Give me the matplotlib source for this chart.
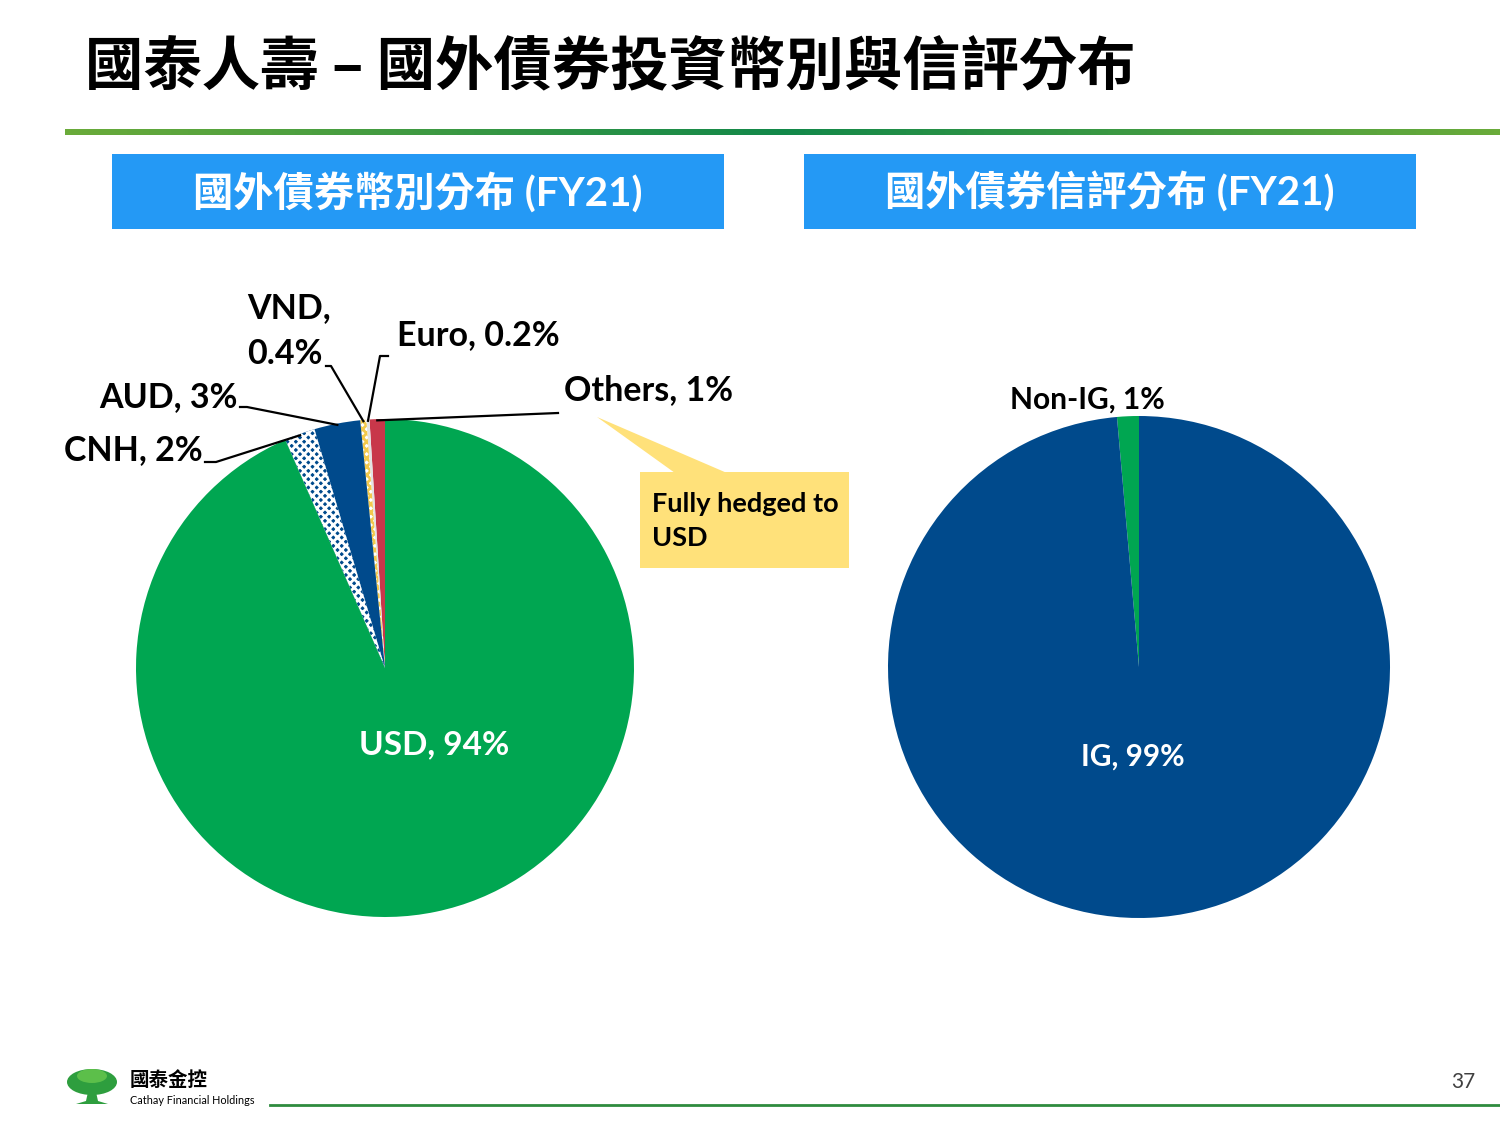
import numpy as np
import matplotlib
matplotlib.use('Agg')
import matplotlib.pyplot as plt
from matplotlib.patches import Rectangle, Polygon, Ellipse
from matplotlib.colors import LinearSegmentedColormap

plt.rcParams['font.family'] = ['Lato', 'Noto Sans CJK TC', 'DejaVu Sans']
plt.rcParams['hatch.linewidth'] = 2.0

# currency split (FY21), counter-clockwise from the top
cur_labels = ['Others', 'Euro', 'VND', 'AUD', 'CNH', 'USD']
cur_values = [1, 0.2, 0.4, 3, 2, 94]
cur_text = ['Others, 1%', 'Euro, 0.2%', 'VND,\n0.4%', 'AUD, 3%', 'CNH, 2%', 'USD, 94%']

# rating split (FY21)
rat_labels = ['Non-IG', 'IG']
rat_values = [1.4, 98.6]
rat_text = ['Non-IG, 1%', 'IG, 99%']

title = '國泰人壽 – 國外債券投資幣別與信評分布'
head_left = '國外債券幣別分布 (FY21)'
head_right = '國外債券信評分布 (FY21)'

GREEN = '#00A651'
BLUE = '#004A8C'
RED = '#C8374A'
YELLOW = '#F2C94C'
HEAD = '#2499F5'

W, H = 1500, 1125
fig = plt.figure(figsize=(15, 11.25), dpi=100)


def pie_axes(cx, cy, r):
    return fig.add_axes([(cx - r) / W, (H - cy - r) / H, 2 * r / W, 2 * r / H])


def fix_limits(ax):
    ax.set_xlim(-1, 1)
    ax.set_ylim(-1, 1)
    ax.axis('off')


# left pie
lcx, lcy, lr = 385, 668, 249
axl = pie_axes(lcx, lcy, lr)
wl, _ = axl.pie(cur_values, startangle=90, counterclock=True, radius=1,
                colors=[RED, '#E3E3E3', 'white', BLUE, BLUE, GREEN],
                wedgeprops=dict(linewidth=0))
fix_limits(axl)
wl[2].set_hatch('xxxx')
wl[2].set_edgecolor(YELLOW)
wl[2].set_linewidth(0)
wl[4].set_hatch('xxxx')
wl[4].set_edgecolor('white')
wl[4].set_linewidth(0)

# right pie
rcx, rcy, rr = 1139, 667, 251
axr = pie_axes(rcx, rcy, rr)
wr, _ = axr.pie(rat_values, startangle=90, counterclock=True, radius=1,
                colors=[GREEN, BLUE], wedgeprops=dict(linewidth=0))
fix_limits(axr)

# overlay in pixel coordinates
ov = fig.add_axes([0, 0, 1, 1], facecolor='none')

ov.text(85, 68, title, fontsize=42, fontweight='bold', va='center', ha='left',
        family=['Noto Sans CJK TC'])

# gradient rule under title
grad = LinearSegmentedColormap.from_list('g', ['#6AAB3A', '#12884A', '#6AAB3A'])
ov.imshow(np.linspace(0, 1, 256).reshape(1, -1), cmap=grad, aspect='auto',
          extent=[65, 1500, 135, 129], zorder=1)
ov.set_xlim(0, W)
ov.set_ylim(H, 0)
ov.axis('off')

# header boxes
for x0, txt in [(112, head_left), (804, head_right)]:
    ov.add_patch(Rectangle((x0, 154), 612, 75, facecolor=HEAD, edgecolor='none'))
    ov.text(x0 + 306, 192, txt, color='white', fontsize=29, fontweight='bold',
            ha='center', va='center')


def edge_point(cx, cy, r, wedge, frac=1.0):
    th = np.deg2rad((wedge.theta1 + wedge.theta2) / 2)
    return cx + frac * r * np.cos(th), cy - frac * r * np.sin(th)


lab = dict(fontsize=24.5, fontweight='bold', color='black')
# leader lines: text anchor, elbow, wedge
leaders = {
    0: [(558, 413)],
    1: [(388, 356), (380, 356)],
    2: [(326, 366), (331, 366)],
    3: [(240, 407), (247, 407)],
    4: [(205, 462), (216, 462)],
}
for i, pts in leaders.items():
    ex, ey = edge_point(lcx, lcy, lr, wl[i], 0.995)
    xs = [p[0] for p in pts] + [ex]
    ys = [p[1] for p in pts] + [ey]
    ov.plot(xs, ys, color='black', lw=1.6, zorder=3)

ov.text(564, 390, cur_text[0], ha='left', va='center', **lab)
ov.text(397, 335, cur_text[1], ha='left', va='center', **lab)
ov.text(247, 331, cur_text[2], ha='left', va='center', linespacing=1.5, **lab)
ov.text(238, 397, cur_text[3], ha='right', va='center', **lab)
ov.text(203, 450, cur_text[4], ha='right', va='center', **lab)
ov.text(434, 745, cur_text[5], ha='center', va='center', fontsize=24,
        fontweight='bold', color='white')

# hedge callout
ov.add_patch(Polygon([(597, 417), (727, 473), (675, 473)], closed=True,
                     facecolor='#FFE17A', edgecolor='none'))
ov.add_patch(Rectangle((640, 472), 209, 96, facecolor='#FFE17A', edgecolor='none'))
ov.text(652, 521, 'Fully hedged to\nUSD', ha='left', va='center', fontsize=19.5,
        fontweight='bold', linespacing=1.45)

ov.text(1087, 400, rat_text[0], ha='center', va='center', fontsize=21.5,
        fontweight='bold', color='black')
ov.text(1133, 757, rat_text[1], ha='center', va='center', fontsize=21.5,
        fontweight='bold', color='white')

# footer
ov.add_patch(Ellipse((92, 1082), 50, 26, facecolor='#2E9E3E', edgecolor='none'))
ov.add_patch(Ellipse((92, 1076), 30, 14, facecolor='#5CBF4A', edgecolor='none'))
ov.add_patch(Polygon([(88, 1092), (96, 1092), (98, 1101), (108, 1104), (76, 1104), (86, 1101)],
                     closed=True, facecolor='#2E9E3E', edgecolor='none'))
ov.text(130, 1081, '國泰金控', fontsize=14, fontweight='bold', ha='left', va='center',
        family=['Noto Sans CJK TC'])
ov.text(130, 1101, 'Cathay Financial Holdings', fontsize=7.8, ha='left', va='center')
ov.plot([270, 1500], [1105, 1105], color='#2E8B3E', lw=2)
ov.text(1475, 1082, '37', fontsize=15, color='#404040', ha='right', va='center')

fig.savefig('out.png', dpi=100, facecolor='white')
